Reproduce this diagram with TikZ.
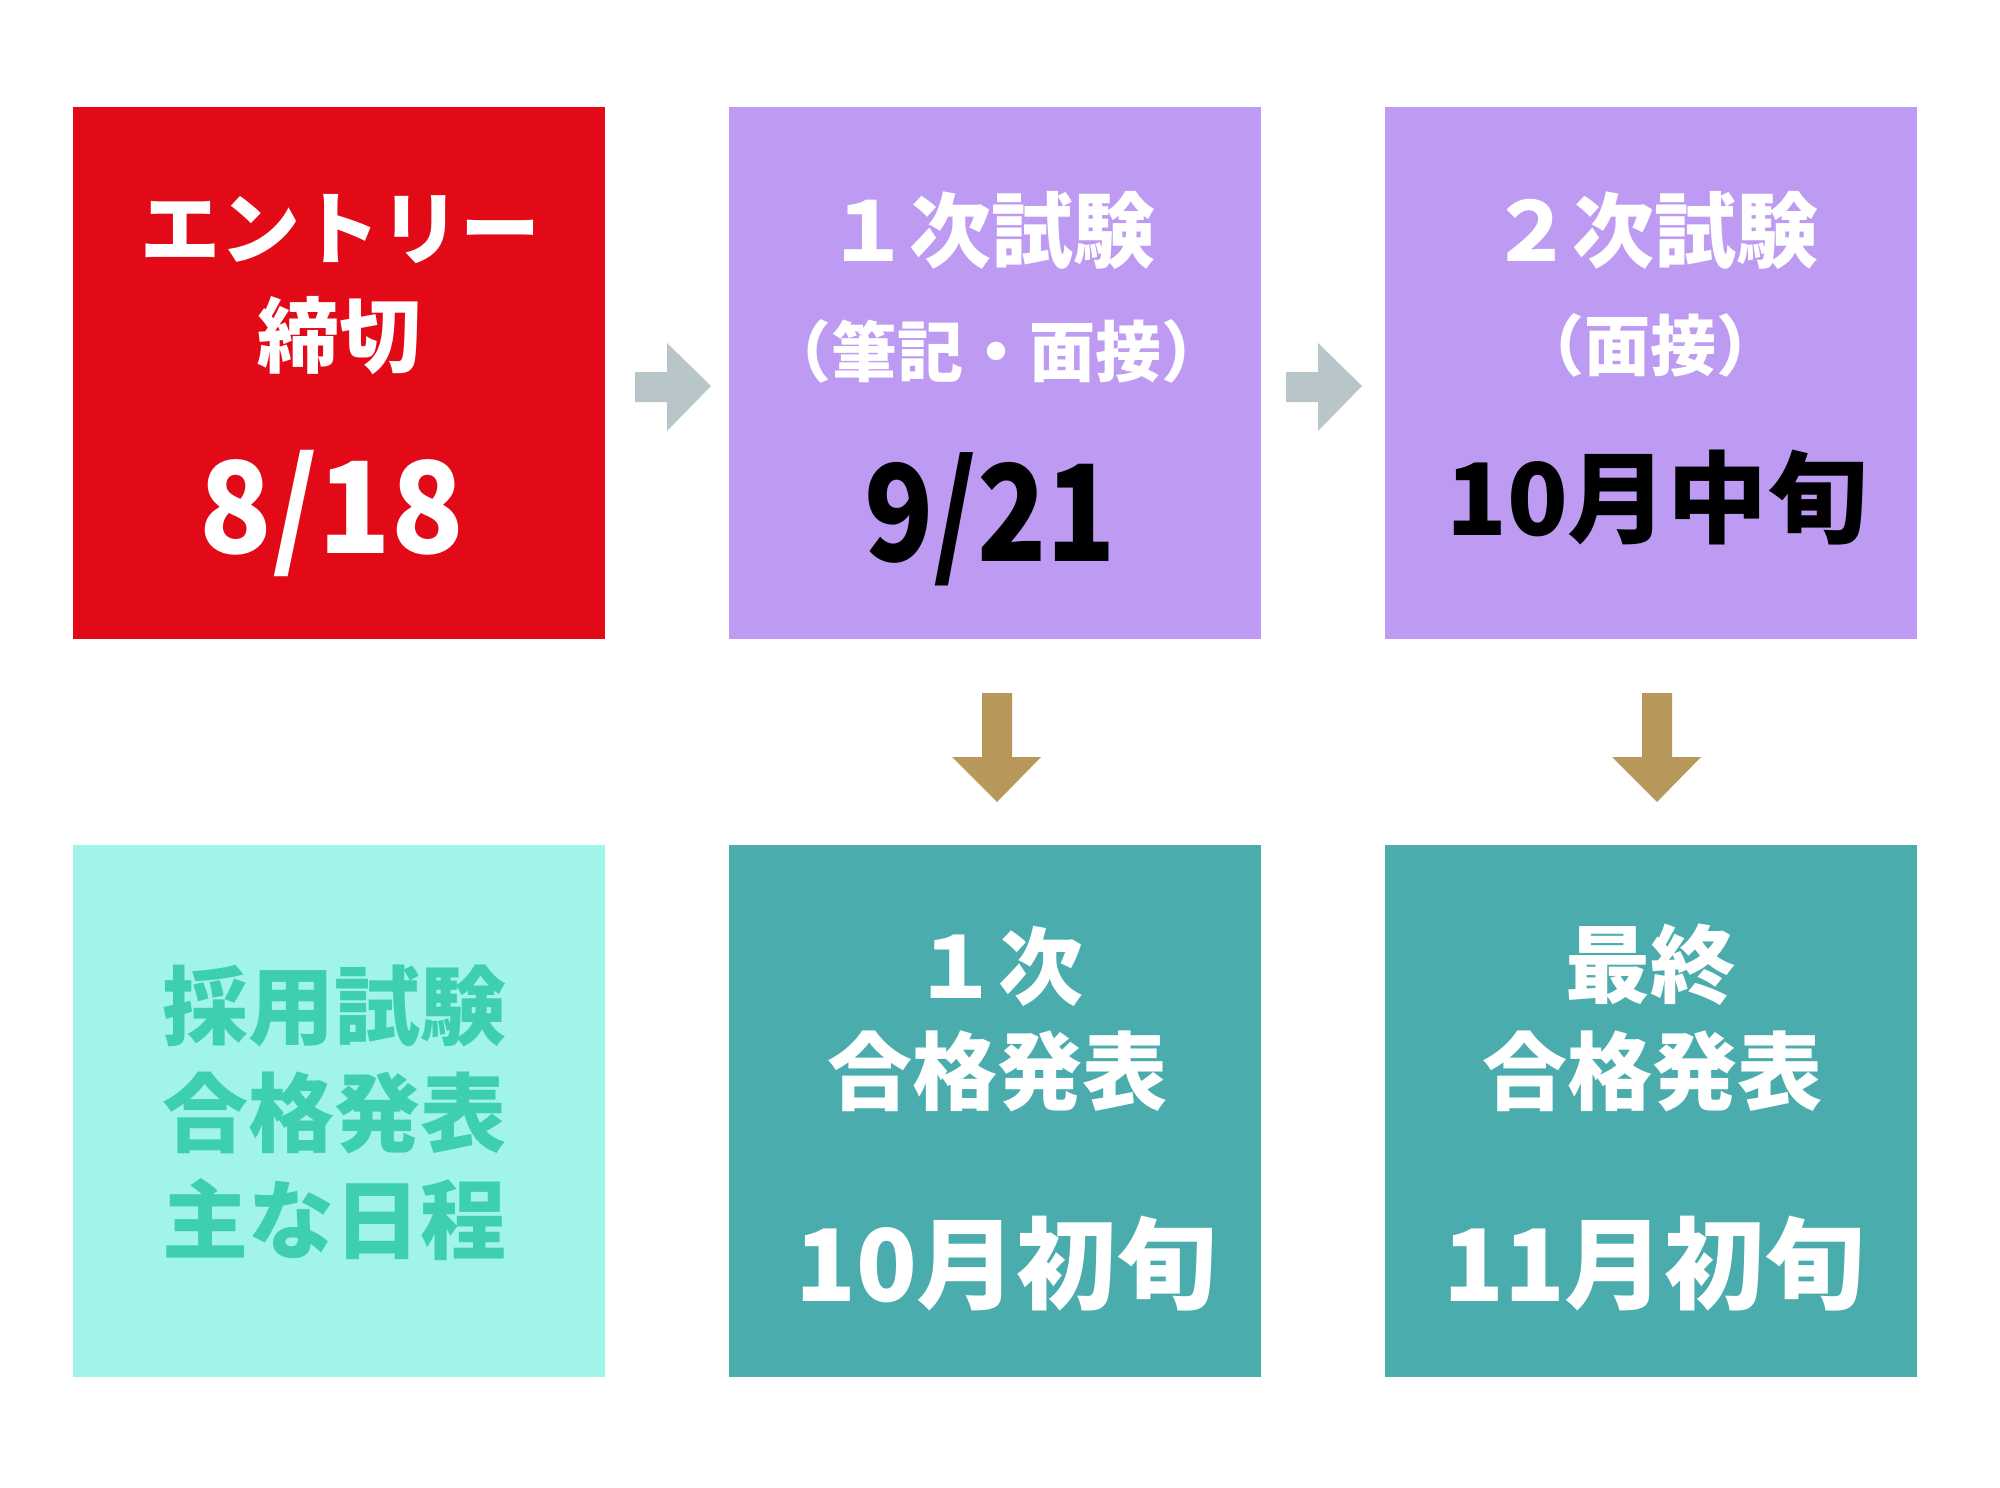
\documentclass[tikz,border=0pt]{standalone}
\usepackage{graphicx}
\usepackage{fontspec}
\IfFontExistsTF{Noto Sans CJK JP Black}{\newfontfamily\cjk{Noto Sans CJK JP Black}}{\IfFontExistsTF{Noto Sans CJK JP Bold}{\newfontfamily\cjk{Noto Sans CJK JP Bold}}{\newfontfamily\cjk{Noto Sans CJK JP}[FakeBold=2]}}
\definecolor{cred}{HTML}{E30A18}
\definecolor{cpurple}{HTML}{BE9BF2}
\definecolor{clight}{HTML}{A0F5E8}
\definecolor{cltext}{HTML}{3ECFB0}
\definecolor{cteal}{HTML}{4AACAC}
\definecolor{cgray}{HTML}{B8C6C9}
\definecolor{cgold}{HTML}{B8975A}
\tikzset{
  box/.style={draw=none,minimum width=532pt,minimum height=532pt,inner sep=0pt,anchor=north west},
  txt/.style={inner sep=0pt,anchor=base,font=\cjk},
}
\newcommand{\fs}[1]{\fontsize{#1}{#1}\selectfont}
\begin{document}
\begin{tikzpicture}[x=1pt,y=-1pt]
\useasboundingbox (0,0) rectangle (2000,1488);
\fill[white] (0,0) rectangle (2000,1488);
% boxes
\node[box,fill=cred]    (entry) at (73,107) {};
\node[box,fill=cpurple] (first) at (729,107) {};
\node[box,fill=cpurple] (second) at (1385,107) {};
\node[box,fill=clight]  (label) at (73,845) {};
\node[box,fill=cteal]   (res1) at (729,845) {};
\node[box,fill=cteal]   (res2) at (1385,845) {};
% gray arrows
\fill[cgray] (635,372) -- (667,372) -- (667,343) -- (711,386) -- (667,431) -- (667,402) -- (635,402) -- cycle;
\fill[cgray] (1286,372) -- (1318,372) -- (1318,343) -- (1362,386) -- (1318,431) -- (1318,402) -- (1286,402) -- cycle;
% gold arrows
\fill[cgold] (982,693) -- (1012,693) -- (1012,757) -- (1041,757) -- (997,802) -- (952,757) -- (982,757) -- cycle;
\fill[cgold] (1642,693) -- (1672,693) -- (1672,757) -- (1701,757) -- (1657,802) -- (1612,757) -- (1642,757) -- cycle;
% texts red
\node[txt,text=white,font=\cjk\fs{80}] (t1) at (340,258) {エントリー};
\node[txt,text=white,font=\cjk\fs{82}] (t2) at (339,366) {締切};
\node[txt,text=white,font=\cjk\fs{127}] (t3) at (332,553) {\scalebox{0.94}[1]{8/18}};
% purple 1
\node[txt,text=white,font=\cjk\fs{82}] (t4) at (991,261) {１次試験};
\node[txt,text=white,font=\cjk\fs{66}] (t5) at (996,376) {（筆記・面接）};
\node[txt,text=black,font=\cjk\fs{134}] (t6) at (990,561) {\scalebox{0.85}[1]{9/21}};
% purple 2
\node[txt,text=white,font=\cjk\fs{82}] (t7) at (1654,261) {２次試験};
\node[txt,text=white,font=\cjk\fs{66}] (t8) at (1650,370) {（面接）};
\node[txt,text=black,font=\cjk\fs{100}] (t9) at (1657,535) {10月中旬};
% bottom left
\node[txt,text=cltext,font=\cjk\fs{86}] (t10) at (334,1038) {採用試験};
\node[txt,text=cltext,font=\cjk\fs{86}] (t11) at (334,1145) {合格発表};
\node[txt,text=cltext,font=\cjk\fs{86}] (t12) at (334,1252) {主な日程};
% bottom middle
\node[txt,text=white,font=\cjk\fs{85}] (t13) at (998,998) {１次};
\node[txt,text=white,font=\cjk\fs{85}] (t14) at (997,1103) {合格発表};
\node[txt,text=white,font=\cjk\fs{100}] (t15) at (1006,1301) {10月初旬};
% bottom right
\node[txt,text=white,font=\cjk\fs{85}] (t16) at (1650,996) {最終};
\node[txt,text=white,font=\cjk\fs{85}] (t17) at (1652,1103) {合格発表};
\node[txt,text=white,font=\cjk\fs{100}] (t18) at (1654,1301) {11月初旬};
\end{tikzpicture}
\end{document}
